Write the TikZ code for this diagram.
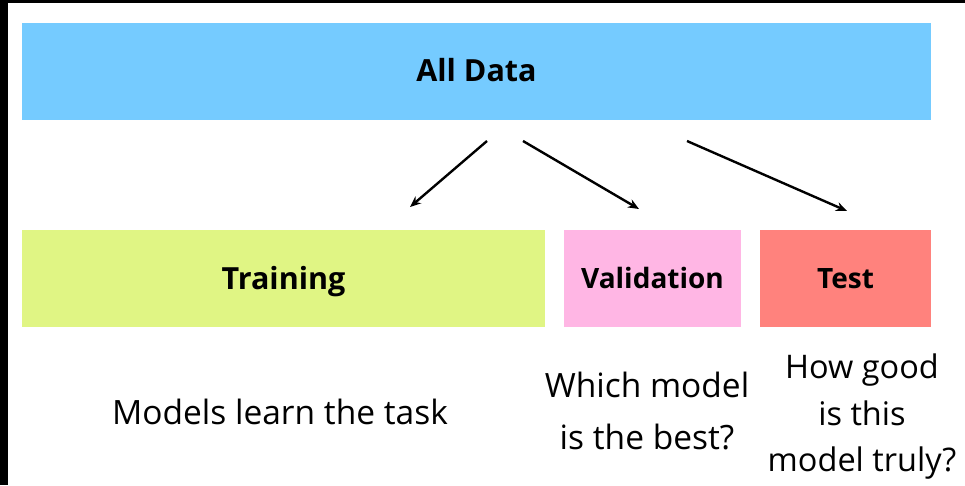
\documentclass[tikz,border=0pt]{standalone}
\usepackage{fontspec}
\setmainfont{Open Sans}
\usepackage{tikz}
\usetikzlibrary{arrows.meta, positioning}

\definecolor{alldata}{RGB}{117,203,255}
\definecolor{trainc}{RGB}{224,245,132}
\definecolor{valc}{RGB}{255,182,228}
\definecolor{testc}{RGB}{255,130,125}

\tikzset{
  part/.style={inner sep=0pt, minimum height=97pt, text height=20.5pt, text depth=0pt,
    font=\fontsize{28}{32}\selectfont\bfseries},
  bigpart/.style={part, text height=21.5pt, font=\fontsize{30.5}{34}\selectfont\bfseries},
  note/.style={align=center, font=\fontsize{33.5}{52}\selectfont},
}

\begin{document}
\begin{tikzpicture}[x=1pt, y=-1pt, >={Stealth[length=11pt, width=9pt]}]
          \useasboundingbox (0,0) rectangle (965,485);
          % frame edges
          \fill[black] (0,0) rectangle (965,3);
          \fill[black] (0,0) rectangle (8,485);

          \node[bigpart, fill=alldata, minimum width=909pt] (all) at (476.5,71) {All Data};
          \node[bigpart, fill=trainc, minimum width=523pt] (train) at (283.5,278.5) {Training};
          \node[part, fill=valc, minimum width=177pt] (val) at (652.5,278.5) {Validation};
          \node[part, fill=testc, minimum width=171pt] (test) at (845.5,278.5) {Test};

          \node[note] (learn) at (280,412) {Models learn the task};
          \node[note] (best) at (647,411) {Which model\\is the best?};
          \node[note, font=\fontsize{32.5}{46.5}\selectfont] (truly) at (862,417) {How good\\is this\\model truly?};

          \coordinate (s1) at (487,141);
          \coordinate (e1) at (410,207);
          \coordinate (s2) at (523,141);
          \coordinate (e2) at (639,209);
          \coordinate (s3) at (687,141);
          \coordinate (e3) at (847,211);

          \draw[->, line width=2.4pt] (s1) -- (e1);
          \draw[->, line width=2.4pt] (s2) -- (e2);
          \draw[->, line width=2.4pt] (s3) -- (e3);
    \end{tikzpicture}
\end{document}
